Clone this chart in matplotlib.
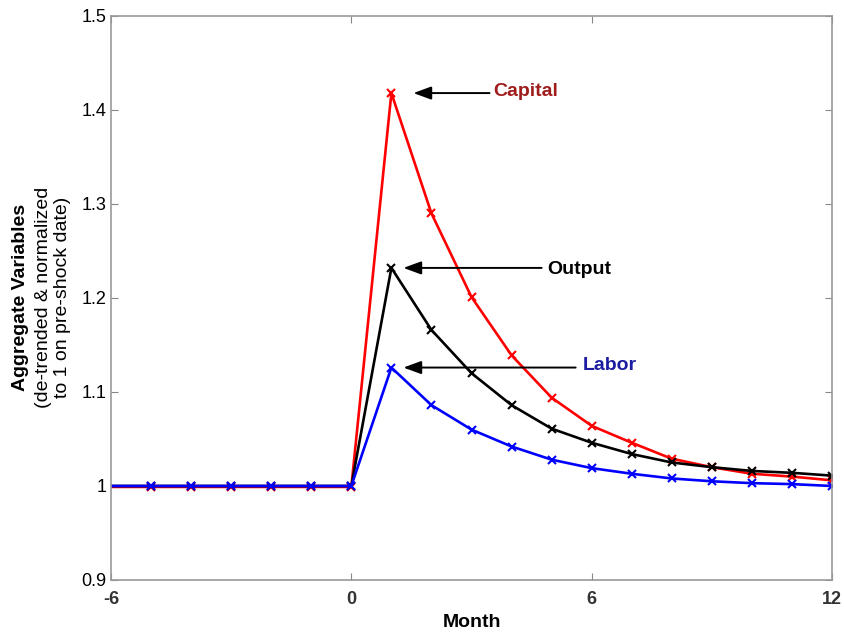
"""
Impulse response of aggregate variables after the shock
"""
import matplotlib
matplotlib.use('Agg')
import matplotlib.pyplot as plt

plt.rcParams['font.family'] = ['Liberation Sans', 'DejaVu Sans']
plt.rcParams['axes.unicode_minus'] = False

# months relative to the shock
months = list(range(-6, 13))

capital = [0.999] * 7 + [1.418, 1.290, 1.201, 1.139, 1.094, 1.064,
                         1.046, 1.029, 1.020, 1.013, 1.010, 1.006]
output = [1.0] * 7 + [1.232, 1.166, 1.120, 1.086, 1.061, 1.046,
                      1.034, 1.025, 1.020, 1.016, 1.014, 1.011]
labor = [1.0] * 7 + [1.126, 1.086, 1.060, 1.042, 1.028, 1.019,
                     1.013, 1.008, 1.005, 1.003, 1.002, 1.000]

xticks = [-6, 0, 6, 12]
yticks = [0.9, 1.0, 1.1, 1.2, 1.3, 1.4, 1.5]
yticklabels = ['0.9', '1', '1.1', '1.2', '1.3', '1.4', '1.5']

fig = plt.figure(figsize=(8.44, 6.32), dpi=100)
ax = fig.add_axes([0.1315, 0.0823, 0.8543, 0.8924])

marks = list(range(1, len(months)))
ax.plot(months, capital, color='#ff0000', lw=1.9, marker='x', ms=5.5, mew=1.5, markevery=marks)
ax.plot(months, output, color='#000000', lw=1.9, marker='x', ms=5.5, mew=1.5, markevery=marks)
ax.plot(months, labor, color='#0000ff', lw=1.9, marker='x', ms=5.5, mew=1.5, markevery=marks)

# annotations
arrow = dict(arrowstyle='-|>,head_length=0.6,head_width=0.22', color='black', lw=1.4,
             mutation_scale=18, shrinkA=0, shrinkB=0)
ax.annotate('', xy=(1.55, capital[7]), xytext=(3.45, capital[7]), arrowprops=arrow)
ax.text(3.55, capital[7] + 0.002, 'Capital', color='#a01c1c', fontsize=14,
        fontweight='bold', va='center', ha='left')
ax.annotate('', xy=(1.3, output[7]), xytext=(4.75, output[7]), arrowprops=arrow)
ax.text(4.9, output[7] - 0.002, 'Output', color='black', fontsize=14,
        fontweight='bold', va='center', ha='left')
ax.annotate('', xy=(1.3, labor[7]), xytext=(5.6, labor[7]), arrowprops=arrow)
ax.text(5.78, labor[7] + 0.002, 'Labor', color='#1c1ca0', fontsize=14,
        fontweight='bold', va='center', ha='left')

ax.set_xlim(-6, 12)
ax.set_ylim(0.9, 1.5)
ax.set_xticks(xticks)
ax.set_yticks(yticks)
ax.set_yticklabels(yticklabels)
ax.tick_params(direction='in', top=True, right=True, length=5, color='#888888',
               labelsize=13)
ax.tick_params(axis='y', pad=3)
ax.tick_params(axis='x', pad=8)
for lbl in ax.get_xticklabels():
    lbl.set_fontweight('bold')
    lbl.set_color('#333333')
for s in ax.spines.values():
    s.set_color('#999999')
    s.set_linewidth(1.2)

ax.set_xlabel('Month', fontsize=14, fontweight='bold', labelpad=4)

fig.text(0.024, 0.53, 'Aggregate Variables', rotation=90, fontsize=14,
         fontweight='bold', ha='center', va='center')
fig.text(0.051, 0.53, '(de-trended & normalized', rotation=90, fontsize=14,
         ha='center', va='center')
fig.text(0.074, 0.53, 'to 1 on pre-shock date)', rotation=90, fontsize=14,
         ha='center', va='center')

plt.savefig('out.png', dpi=100)
plt.close()
